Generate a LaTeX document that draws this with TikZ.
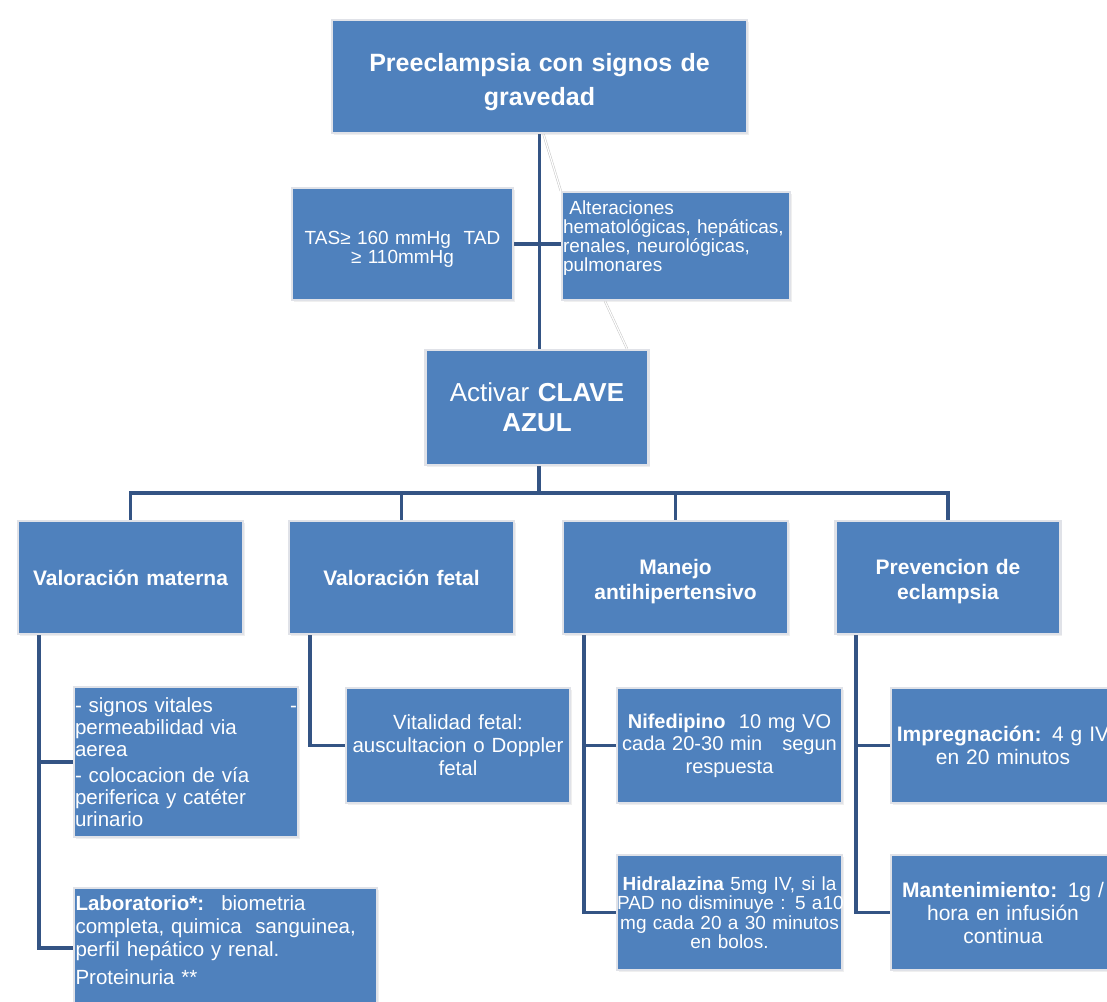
\documentclass[tikz,border=0pt]{standalone}
\usepackage{fontspec}
\setmainfont{Liberation Sans}
\usetikzlibrary{shadows}
\definecolor{boxblue}{RGB}{79,129,189}
\definecolor{linkblue}{RGB}{52,84,132}
\definecolor{rimgray}{RGB}{224,226,232}
\pgfdeclarelayer{bg}
\pgfdeclarelayer{paper}
\pgfsetlayers{paper,bg,main}
\begin{document}
\begin{tikzpicture}[x=1pt,y=-1pt,
  box/.style={rectangle, fill=boxblue, draw=rimgray, line width=2.5pt, text=white,
    inner sep=0pt, align=center,
    drop shadow={opacity=0.12, shadow xshift=1.5pt, shadow yshift=-1.5pt}},
  rowbox/.style={box, minimum width=225pt, minimum height=113pt, text width=219pt,
    font=\fontsize{21}{25}\selectfont\bfseries},
  link/.style={draw=linkblue, line width=3.8pt},
  ghost/.style={draw=gray!45, line width=0.5pt, double=white, double distance=1.2pt}]
\begin{pgfonlayer}{paper}
\fill[white] (0,0) rectangle (1107,1001);
\end{pgfonlayer}
\useasboundingbox (0,0) rectangle (1107,1001);

% top level
\node[box, minimum width=415pt, minimum height=113pt, text width=405pt,
  font=\fontsize{25}{34}\selectfont\bfseries] (top) at (539.5,76.5)
  {\mbox{}\\[-4pt]Preeclampsia con signos de\\ gravedad};
\node[box, minimum width=221pt, minimum height=112pt, text width=215pt,
  font=\fontsize{19}{17}\selectfont] (tas) at (402.5,244)
  {\mbox{}\\[7pt]TAS≥ 160 mmHg~ TAD\\ ≥ 110mmHg};
\node[box, minimum width=228pt, minimum height=108pt, text width=226pt, align=left,
  font=\fontsize{19}{19}\selectfont] (alt) at (676,246)
  {~Alteraciones\\ hematológicas, hepáticas,\\ renales, neurológicas,\\ pulmonares\\[1pt]\mbox{}};
\node[box, minimum width=223pt, minimum height=115pt, text width=215pt,
  font=\fontsize{26}{30}\selectfont] (clave) at (537,407.5)
  {Activar \textbf{CLAVE}\\ \textbf{AZUL}};

% second row
\node[rowbox] (vm) at (130.5,577.5) {Valoración materna};
\node[rowbox] (vf) at (401.5,577.5) {Valoración fetal};
\node[rowbox] (ma) at (675.5,577.5) {\mbox{}\\[-2pt]Manejo\\ antihipertensivo};
\node[rowbox] (pe) at (948,577.5) {\mbox{}\\[-2pt]Prevencion de\\ eclampsia};

% third level
\node[box, minimum width=224pt, minimum height=150pt, text width=222pt, align=left,
  font=\fontsize{20.5}{22}\selectfont] (sig) at (186,762)
  {- signos vitales\hspace{\fill}-\\ permeabilidad via\\ aerea\\[4pt] - colocacion de vía\\ periferica y catéter\\ urinario};
\node[box, minimum width=303pt, minimum height=120pt, text width=300pt, align=left,
  font=\fontsize{20.5}{23}\selectfont] (lab) at (225.5,948)
  {\textbf{Laboratorio*:}~ biometria\\ completa, quimica~ sanguinea,\\ perfil hepático y renal.\\[5pt] Proteinuria **\\[-8pt]\mbox{}};
\node[box, minimum width=224pt, minimum height=115pt, text width=220pt,
  font=\fontsize{20.5}{23}\selectfont] (vit) at (458,745.5)
  {Vitalidad fetal:\\ auscultacion o Doppler\\ fetal};
\node[box, minimum width=225pt, minimum height=115pt, text width=223pt,
  font=\fontsize{20}{22.5}\selectfont] (nif) at (729.5,745.5)
  {\textbf{Nifedipino}~ 10 mg VO\\ cada 20-30 min~~ segun\\ respuesta};
\node[box, minimum width=225pt, minimum height=115pt, text width=225pt,
  font=\fontsize{19}{19.5}\selectfont] (hid) at (729.5,912.5)
  {\mbox{\textbf{Hidralazina} 5mg IV, si la}\\ \mbox{PAD no disminuye : 5 a10}\\ \mbox{mg cada 20 a 30 minutos}\\ en bolos.};
\node[box, minimum width=224pt, minimum height=115pt, text width=222pt,
  font=\fontsize{21}{23}\selectfont] (imp) at (1003,745.5)
  {\textbf{Impregnación:} 4 g IV\\ en 20 minutos};
\node[box, minimum width=224pt, minimum height=115pt, text width=222pt,
  font=\fontsize{21}{23}\selectfont] (man) at (1003,912.5)
  {\textbf{Mantenimiento:} 1g /\\ hora en infusión\\ continua};

\coordinate (bus) at (539,493);

\begin{pgfonlayer}{bg}
\draw[link] (top.south) -- (top.south |- clave.north);
\draw[link] (tas.east) -- (tas.east -| alt.west);
\draw[ghost] ([xshift=4pt]top.south) -- (alt.north west);
\draw[ghost] ([xshift=-71pt]alt.south) -- ([xshift=90pt]clave.north);
\draw[link] (clave.south -| bus) -- (bus);
\draw[link] (vm.north) |- (bus) -| (pe.north);
\draw[link] (vf.north) -- (vf.north |- bus);
\draw[link] (ma.north) -- (ma.north |- bus);
\draw[link] ([xshift=22pt]vm.south west) |- (sig.west);
\draw[link] ([xshift=22pt]vm.south west) |- (lab.west);
\draw[link] ([xshift=22pt]vf.south west) |- (vit.west);
\draw[link] ([xshift=22pt]ma.south west) |- (nif.west);
\draw[link] ([xshift=22pt]ma.south west) |- (hid.west);
\draw[link] ([xshift=22pt]pe.south west) |- (imp.west);
\draw[link] ([xshift=22pt]pe.south west) |- (man.west);
\end{pgfonlayer}
\end{tikzpicture}
\end{document}
